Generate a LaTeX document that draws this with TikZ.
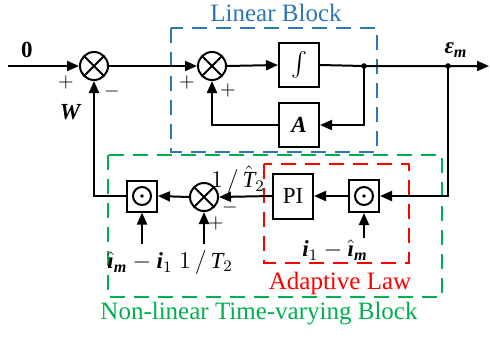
\documentclass[tikz,border=0pt]{standalone}
\usepackage{amsmath}
\usepackage{fontspec}
\setmainfont{Liberation Serif}
\usetikzlibrary{arrows.meta}
\definecolor{linblue}{RGB}{46,117,182}
\definecolor{nlgreen}{RGB}{0,176,80}
\definecolor{adred}{RGB}{255,0,0}
\newcommand{\ti}[1]{\text{\itshape #1}}
\newcommand{\tbi}[1]{\text{\bfseries\itshape #1}}

\begin{document}
\begin{tikzpicture}[x=0.5pt,y=-0.5pt,line width=1pt,
  >={Triangle[length=6pt,width=5pt]},
  lbl/.style={font=\fontsize{11.5}{14}\selectfont,inner sep=0pt},
  sgn/.style={font=\fontsize{10}{12}\selectfont,inner sep=0pt},
  ttl/.style={font=\fontsize{12.5}{15}\selectfont,inner sep=0pt},
  blk/.style={draw,minimum width=20pt,minimum height=22pt,inner sep=0pt,font=\fontsize{11.5}{14}\selectfont},
  sumnode/.style={draw,circle,minimum size=14pt,inner sep=0pt,
    path picture={\draw (path picture bounding box.north west) -- (path picture bounding box.south east)
                        (path picture bounding box.north east) -- (path picture bounding box.south west);}},
  prodnode/.style={draw,minimum width=15pt,minimum height=15.5pt,inner sep=0pt,
    path picture={\draw (path picture bounding box.center) circle (4.5pt);
                  \fill (path picture bounding box.center) circle (0.9pt);}},
  dashbox/.style={dash pattern=on 7.5pt off 4.5pt}]
\useasboundingbox (0,0) rectangle (490,338);

% ---------------- dashed regions ----------------
\draw[dashbox,linblue] (171,28) rectangle (377,152);
\draw[dashbox,nlgreen] (108,155) rectangle (442,297);
\draw[dashbox,adred] (264,164) rectangle (409,263);
\node[ttl,text=linblue] (tlin) at (276,13) {Linear Block};
\node[ttl,text=nlgreen] (tnl) at (259,314) {Non-linear Time-varying Block};
\node[ttl,text=adred] (tad) at (340,283) {Adaptive Law};

% ---------------- blocks ----------------
\node[sumnode] (s1) at (94,66) {};
\node[sumnode] (s2) at (212,66) {};
\node[blk] (int) at (299,65) {$\int$};
\node[blk] (A) at (299,125) {$\tbi{A}$};
\node[sumnode] (s3) at (204,197) {};
\node[prodnode] (p1) at (142,196) {};
\node[blk,minimum height=22.5pt] (pi) at (293,196) {PI};
\node[prodnode,minimum height=16pt] (p2) at (364,196) {};

% ---------------- free ends and branch points ----------------
\coordinate (in) at (8,66);
\coordinate (j1) at (364,66);
\coordinate (j2) at (448,66);
\coordinate (out) at (489,66);
\coordinate (a1) at (142,244);
\coordinate (a2) at (204,244);
\coordinate (a3) at (364,238);
\fill (j1) circle (1.4pt);
\fill (j2) circle (1.4pt);

% ---------------- forward path ----------------
\draw[->] (in) -- (s1.west);
\draw[->] (s1.east) -- (s2.west);
\draw[->] (s2.east) -- (int.west);
\draw[->] (int.east) -- (j1) -- (j2) -- (out);
\draw[->] (j1) |- (A.east);
\draw[->] (A.west) -| (s2.south);

% ---------------- non-linear feedback ----------------
\draw[->] (j2) |- (p2.east);
\draw[->] (p2.west) -- (pi.east);
\draw[->] (pi.west) -- (s3.east);
\draw[->] (s3.west) -- (p1.east);
\draw[->] (p1.west) -| (s1.south);
\draw[->] (a1) -- (p1.south);
\draw[->] (a2) -- (s3.south);
\draw[->] (a3) -- (p2.south);

% ---------------- labels ----------------
\node[lbl] (l0) at (27,50) {\textbf{0}};
\node[lbl] (lw) at (70,112) {$\tbi{W}$};
\node[lbl] (leps) at (456,50) {$\tbi{ε}_{\tbi{m}}$};
\node[sgn] at (66,82) {$+$};
\node[sgn] at (112,91) {$-$};
\node[sgn] at (187,82) {$+$};
\node[sgn] at (228,90) {$+$};
\node[sgn] at (216,223) {$+$};
\node[sgn] at (230,207) {$-$};
\node[lbl] (lthat) at (238,180) {$1\,/\,\hat{\ti{T}}_2$};
\node[lbl] (lt) at (206,262) {$1\,/\,\ti{T}_2$};
\node[lbl] (lerr1) at (140,262) {$\hat{\tbi{ı}}_{\tbi{m}}-\tbi{i}_1$};
\node[lbl] (lerr2) at (335,250) {$\tbi{i}_1-\hat{\tbi{ı}}_{\tbi{m}}$};
\end{tikzpicture}
\end{document}
